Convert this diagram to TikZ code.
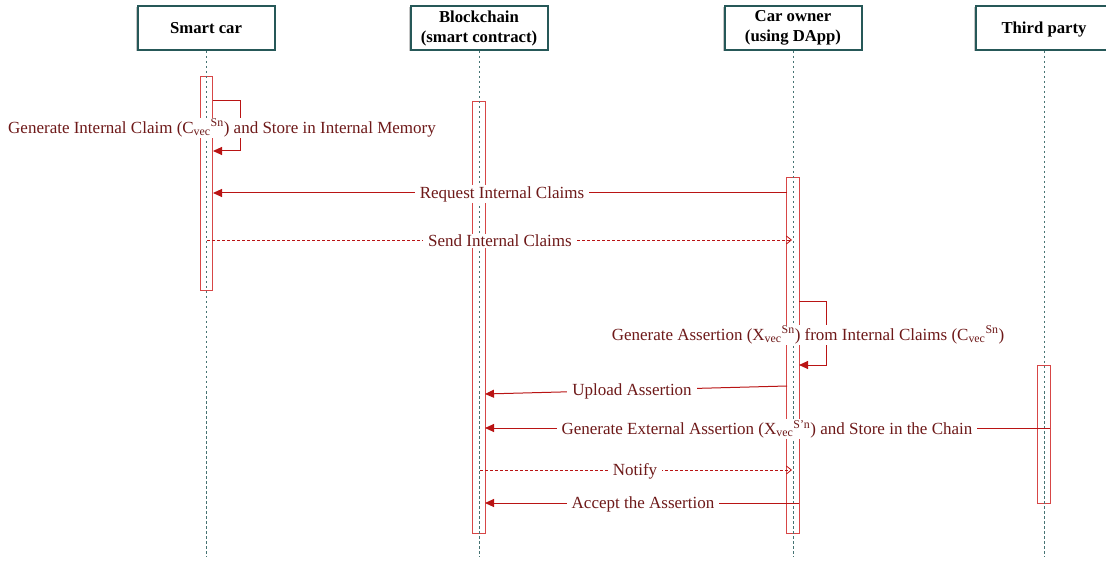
\documentclass[tikz,border=0pt]{standalone}
\usepackage{fontspec}
\setmainfont{Liberation Serif}
\usetikzlibrary{arrows.meta,shadows}
\definecolor{tealA}{RGB}{38,88,88}
\definecolor{lifeC}{RGB}{70,115,115}
\definecolor{msgC}{RGB}{185,20,20}
\definecolor{txtC}{RGB}{110,25,25}
\definecolor{actC}{RGB}{215,70,70}
\begin{document}
\begin{tikzpicture}[x=1pt,y=-1pt,
  head/.style={draw=tealA, line width=2pt, fill=white, minimum width=137pt, minimum height=44pt,
    font=\fontsize{16.7}{20}\selectfont\bfseries, align=center, inner sep=0pt,
    drop shadow={shadow xshift=-1.5pt, shadow yshift=-1.5pt, opacity=0.45, fill=gray}},
  life/.style={draw=lifeC, dash pattern=on 2.5pt off 2.5pt, line width=0.8pt},
  actbox/.style={draw=actC, line width=0.9pt, minimum width=12.5pt, inner sep=0pt},
  msgline/.style={draw=msgC, line width=1pt, -{Triangle[length=9pt,width=8pt]}},
  reply/.style={draw=msgC, line width=0.8pt, dash pattern=on 3pt off 2pt, -{Straight Barb[length=5pt,width=8pt]}},
  lbl/.style={fill=white, text=txtC, font=\fontsize{17}{20}\selectfont, inner xsep=5pt, inner ysep=1pt}]
\useasboundingbox (0,0) rectangle (1106,561);
% headers
\node[head] (sc) at (206,28) {Smart car};
\node[head] (bc) at (479,28) {Blockchain\\(smart contract)};
\node[head] (co) at (793,28) {Car owner\\(using DApp)};
\node[head, minimum width=160pt, text height=11.5pt, text depth=0pt] (tp) at (1055.5,28) {\makebox[137pt]{Third party}\hspace{23pt}};
% lifeline ends
\coordinate (scE) at (206,557);
\coordinate (bcE) at (479,557);
\coordinate (coE) at (793,557);
\coordinate (tpE) at (1044,557);
\coordinate (tpS) at (1044,51);
% activation bars
\node[actbox, minimum height=214pt] (a1) at (206.5,183) {};
\node[actbox, minimum height=432pt] (a2) at (479,317) {};
\node[actbox, minimum height=356pt] (a3) at (793,355) {};
\node[actbox, minimum height=138pt] (a4) at (1044,434) {};
% lifelines
\draw[life] (sc) -- (scE);
\draw[life] (bc) -- (bcE);
\draw[life] (co) -- (coE);
\draw[life] (tpS) -- (tpE);
% message points
\coordinate (m1a) at (213,101); \coordinate (m1b) at (240,101);
\coordinate (m1c) at (240,151); \coordinate (m1d) at (213,151);
\coordinate (m2a) at (787,193); \coordinate (m2b) at (213,193);
\coordinate (m3a) at (207,240); \coordinate (m3b) at (792,240);
\coordinate (m4a) at (799,302); \coordinate (m4b) at (826,302);
\coordinate (m4c) at (826,365); \coordinate (m4d) at (799,365);
\coordinate (m5a) at (787,386); \coordinate (m5b) at (485,394);
\coordinate (m6a) at (1050,428); \coordinate (m6b) at (485,428);
\coordinate (m7a) at (480,470); \coordinate (m7b) at (792,470);
\coordinate (m8a) at (799,503); \coordinate (m8b) at (485,503);
% messages
\draw[msgline] (m1a) -- (m1b) -- (m1c) -- (m1d);
\draw[msgline] (m2a) -- (m2b);
\draw[reply] (m3a) -- (m3b);
\draw[msgline] (m4a) -- (m4b) -- (m4c) -- (m4d);
\draw[msgline] (m5a) -- (m5b);
\draw[msgline] (m6a) -- (m6b);
\draw[reply] (m7a) -- (m7b);
\draw[msgline] (m8a) -- (m8b);
% labels
\node[lbl] (l1) at (222,128) {Generate Internal Claim (C\textsubscript{vec}\textsuperscript{Sn}) and Store in Internal Memory};
\node[lbl] (l2) at (502,194) {Request Internal Claims};
\node[lbl] (l3) at (500,241) {Send Internal Claims};
\node[lbl] (l4) at (808,335) {Generate Assertion (X\textsubscript{vec}\textsuperscript{Sn}) from Internal Claims (C\textsubscript{vec}\textsuperscript{Sn})};
\node[lbl] (l5) at (632,391) {Upload Assertion};
\node[lbl] (l6) at (767,429) {Generate External Assertion (X\textsubscript{vec}\textsuperscript{S'n}) and Store in the Chain};
\node[lbl] (l7) at (635,471) {Notify};
\node[lbl] (l8) at (643,504) {Accept the Assertion};
\end{tikzpicture}
\end{document}
